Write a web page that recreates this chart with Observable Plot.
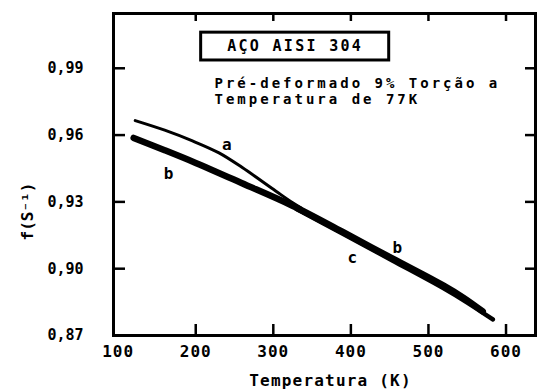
<!DOCTYPE html>
<html><head><meta charset="utf-8">
<script src="https://cdn.jsdelivr.net/npm/d3@7"></script>
<script src="https://cdn.jsdelivr.net/npm/@observablehq/plot@0.6"></script>
<style>body{margin:0;background:#fff;} #chart svg{display:block;}</style>
</head><body><div id="chart"></div>
<script>
// Tick values
const xTicks = [100, 200, 300, 400, 500, 600];
const yTicks = [0.87, 0.90, 0.93, 0.96, 0.99];
const sideTicksY = [0.90, 0.93, 0.96, 0.99];

// Axis titles
const xTitle = "Temperatura (K)";
const yTitle = "f(S⁻¹)";

// Curve a (thin, upper, merges near 330 K)
const aT = [122, 160, 195, 230, 260, 303, 325, 336];
const aF = [0.9665, 0.9622, 0.9575, 0.9520, 0.9454, 0.9349, 0.9296, 0.9272];

// Curve b (thick)
const bT = [120, 160, 200, 259, 324, 389, 454, 519, 545, 570];
const bF = [0.9587, 0.9532, 0.9475, 0.9385, 0.9284, 0.9166, 0.9045, 0.8925, 0.8870, 0.8808];

// Curve c (lower edge of the band, extends further)
const cT = [330, 389, 454, 519, 550, 583];
const cF = [0.9268, 0.9158, 0.9036, 0.8913, 0.8848, 0.8772];

// Curve labels
const labText = ["a", "b", "c", "b"];
const labT = [240, 165, 402, 460];
const labF = [0.9558, 0.9427, 0.905, 0.9093];

// Annotations
const boxTitle = "AÇO AISI 304";
const boxT = [207, 449.4];
const boxF = [0.9935, 1.006];
const noteLines = ["Pré-deformado 9% Torção a", "Temperatura de 77K"];
const noteT = 224.2, noteF = 0.9798;

const toRows = (T, F) => T.map((t, i) => ({t, f: F[i]}));
const fmt = d => d3.format(".2f")(d).replace(".", ",");

const plot = Plot.plot({
  width: 537, height: 390,
  marginLeft: 113, marginRight: 2, marginTop: 13, marginBottom: 55,
  style: {fontFamily: "DejaVu Sans Mono", fontWeight: "bold", fontSize: "15px", color: "#000", background: "#fff"},
  x: {domain: [94, 638]},
  y: {domain: [0.87, 1.0146]},
  marks: [
    Plot.frame({strokeWidth: 3}),
    // inward ticks
    Plot.axisY({anchor: "left", ticks: sideTicksY, tickSize: -12, tickFormat: () => "", strokeWidth: 2.5, label: null}),
    Plot.axisY({anchor: "right", ticks: sideTicksY, tickSize: -11, tickFormat: () => "", strokeWidth: 2.5, label: null}),
    Plot.axisX({anchor: "bottom", ticks: xTicks.slice(1), tickSize: -11, tickFormat: () => "", strokeWidth: 2.5, label: null}),
    Plot.axisX({anchor: "top", ticks: xTicks.slice(1), tickSize: -7, tickFormat: () => "", strokeWidth: 2.5, label: null}),
    // tick labels
    Plot.axisY({anchor: "left", ticks: yTicks, tickSize: 0, tickPadding: 30, tickFormat: fmt, label: null, fontSize: 15}),
    Plot.axisX({anchor: "bottom", ticks: xTicks, tickSize: 0, tickPadding: 10, tickFormat: d => String(d), label: null, fontSize: 16}),
    // axis titles
    Plot.text([xTitle], {frameAnchor: "bottom", text: d => d, dx: 6, dy: 50, fontSize: 16}),
    Plot.text([yTitle], {frameAnchor: "left", text: d => d, rotate: -90, dx: -86, dy: 66, fontSize: 16}),
    // annotation box
    Plot.rect([{x1: boxT[0], x2: boxT[1], y1: boxF[0], y2: boxF[1]}], {x1: "x1", x2: "x2", y1: "y1", y2: "y2", fill: "none", stroke: "#000", strokeWidth: 3}),
    Plot.text([boxTitle], {x: () => (boxT[0] + boxT[1]) / 2, y: () => (boxF[0] + boxF[1]) / 2, text: d => d, fontSize: 15}),
    Plot.text([noteLines.join("\n")], {x: () => noteT, y: () => noteF, text: d => d, textAnchor: "start", lineHeight: 1.1, fontSize: 14}),
    // curves
    Plot.line(toRows(aT, aF), {x: "t", y: "f", stroke: "#000", strokeWidth: 3, curve: "catmull-rom"}),
    Plot.line(toRows(bT, bF), {x: "t", y: "f", stroke: "#000", strokeWidth: 6.5, curve: "catmull-rom"}),
    Plot.line(toRows(cT, cF), {x: "t", y: "f", stroke: "#000", strokeWidth: 4.5, curve: "catmull-rom"}),
    Plot.text(labText.map((s, i) => ({s, t: labT[i], f: labF[i]})), {x: "t", y: "f", text: "s", fontSize: 16})
  ]
});
// typewriter-like letter spacing
d3.select(plot).selectAll("text, tspan").each(function() {
  const t = this.textContent;
  let ls = null;
  if (t === boxTitle) ls = 2.3;
  else if (noteLines.includes(t)) ls = 3.0;
  else if (t === xTitle) ls = 1.2;
  else if (/^\d00$/.test(t)) ls = 1;
  if (ls != null) this.setAttribute("letter-spacing", ls);
});
document.getElementById("chart").appendChild(plot);
</script>
</body></html>
